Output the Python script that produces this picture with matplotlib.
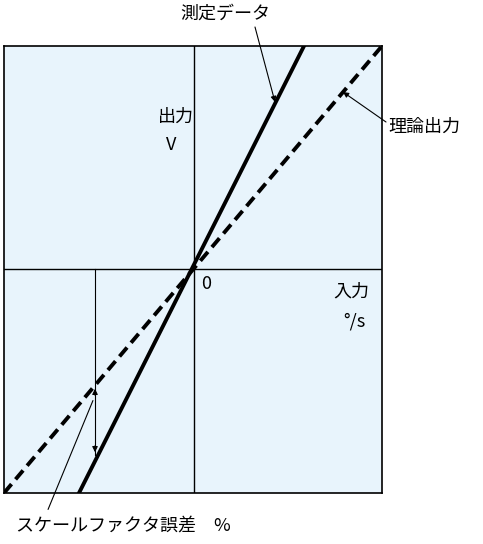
import matplotlib
matplotlib.use("Agg")
import matplotlib.pyplot as plt

plt.rcParams['font.family'] = ['Noto Sans CJK JP', 'DejaVu Sans']

W, H = 483, 544
# data in pixel-like units relative to origin
measured_x = [-115, 110]
measured_y = [-224, 223]
theory_x = [-190, 188]
theory_y = [-224, 223]
error_x = -99
error_y = [-117, -186]

FS = 13

fig = plt.figure(figsize=(W/100, H/100), dpi=100)
ax = fig.add_axes([4/W, (H-493)/H, 378/W, 447/H])
ax.set_xlim(-190, 188)
ax.set_ylim(-224, 223)
ax.set_facecolor('#e8f4fc')
for s in ax.spines.values():
    s.set_linewidth(1.2)
ax.set_xticks([]); ax.set_yticks([])
ax.axhline(0, color='black', lw=1)
ax.axvline(0, color='black', lw=1)
ax.plot(theory_x, theory_y, color='black', lw=2.8, ls=(0, (3, 1.6)))
ax.plot(measured_x, measured_y, color='black', lw=2.8)
ax.plot([error_x, error_x], [0, error_y[1]], color='black', lw=0.8)
ax.annotate('', xy=(error_x, error_y[0]), xytext=(error_x, error_y[0]-12),
            arrowprops=dict(arrowstyle='-|>', color='black', lw=0.8, mutation_scale=8))
ax.annotate('', xy=(error_x, error_y[1]), xytext=(error_x, error_y[1]+12),
            arrowprops=dict(arrowstyle='-|>', color='black', lw=0.8, mutation_scale=8))

def fp(x, y):
    return (x, H - y)

kw = dict(xycoords='figure pixels', textcoords='figure pixels', fontsize=FS)
ap = dict(arrowstyle='-|>', color='black', lw=0.8, mutation_scale=8, shrinkA=0, shrinkB=0)
ax.annotate('', xy=fp(275, 102), xytext=fp(255, 27), arrowprops=ap, **kw)
fig.text(225/W, 1-14/H, '測定データ', fontsize=FS, va='center', ha='center')
ax.annotate('', xy=fp(343, 92), xytext=fp(386, 122), arrowprops=ap, **kw)
fig.text(388/W, 1-127/H, '理論出力', fontsize=FS, va='center')
ax.annotate('', xy=fp(94, 398), xytext=fp(47, 512), arrowprops=dict(arrowstyle='-', lw=0.8), **kw)
fig.text(16/W, 1-526/H, 'スケールファクタ誤差　%', fontsize=FS, va='center')
fig.text(158/W, 1-117/H, '出力', fontsize=FS, va='center')
fig.text(166/W, 1-145/H, 'V', fontsize=FS, va='center')
fig.text(201/W, 1-284/H, '0', fontsize=FS, va='center')
fig.text(333/W, 1-292/H, '入力', fontsize=FS, va='center')
fig.text(343/W, 1-322/H, '°/s', fontsize=FS, va='center')

fig.savefig('out.png', dpi=100)
